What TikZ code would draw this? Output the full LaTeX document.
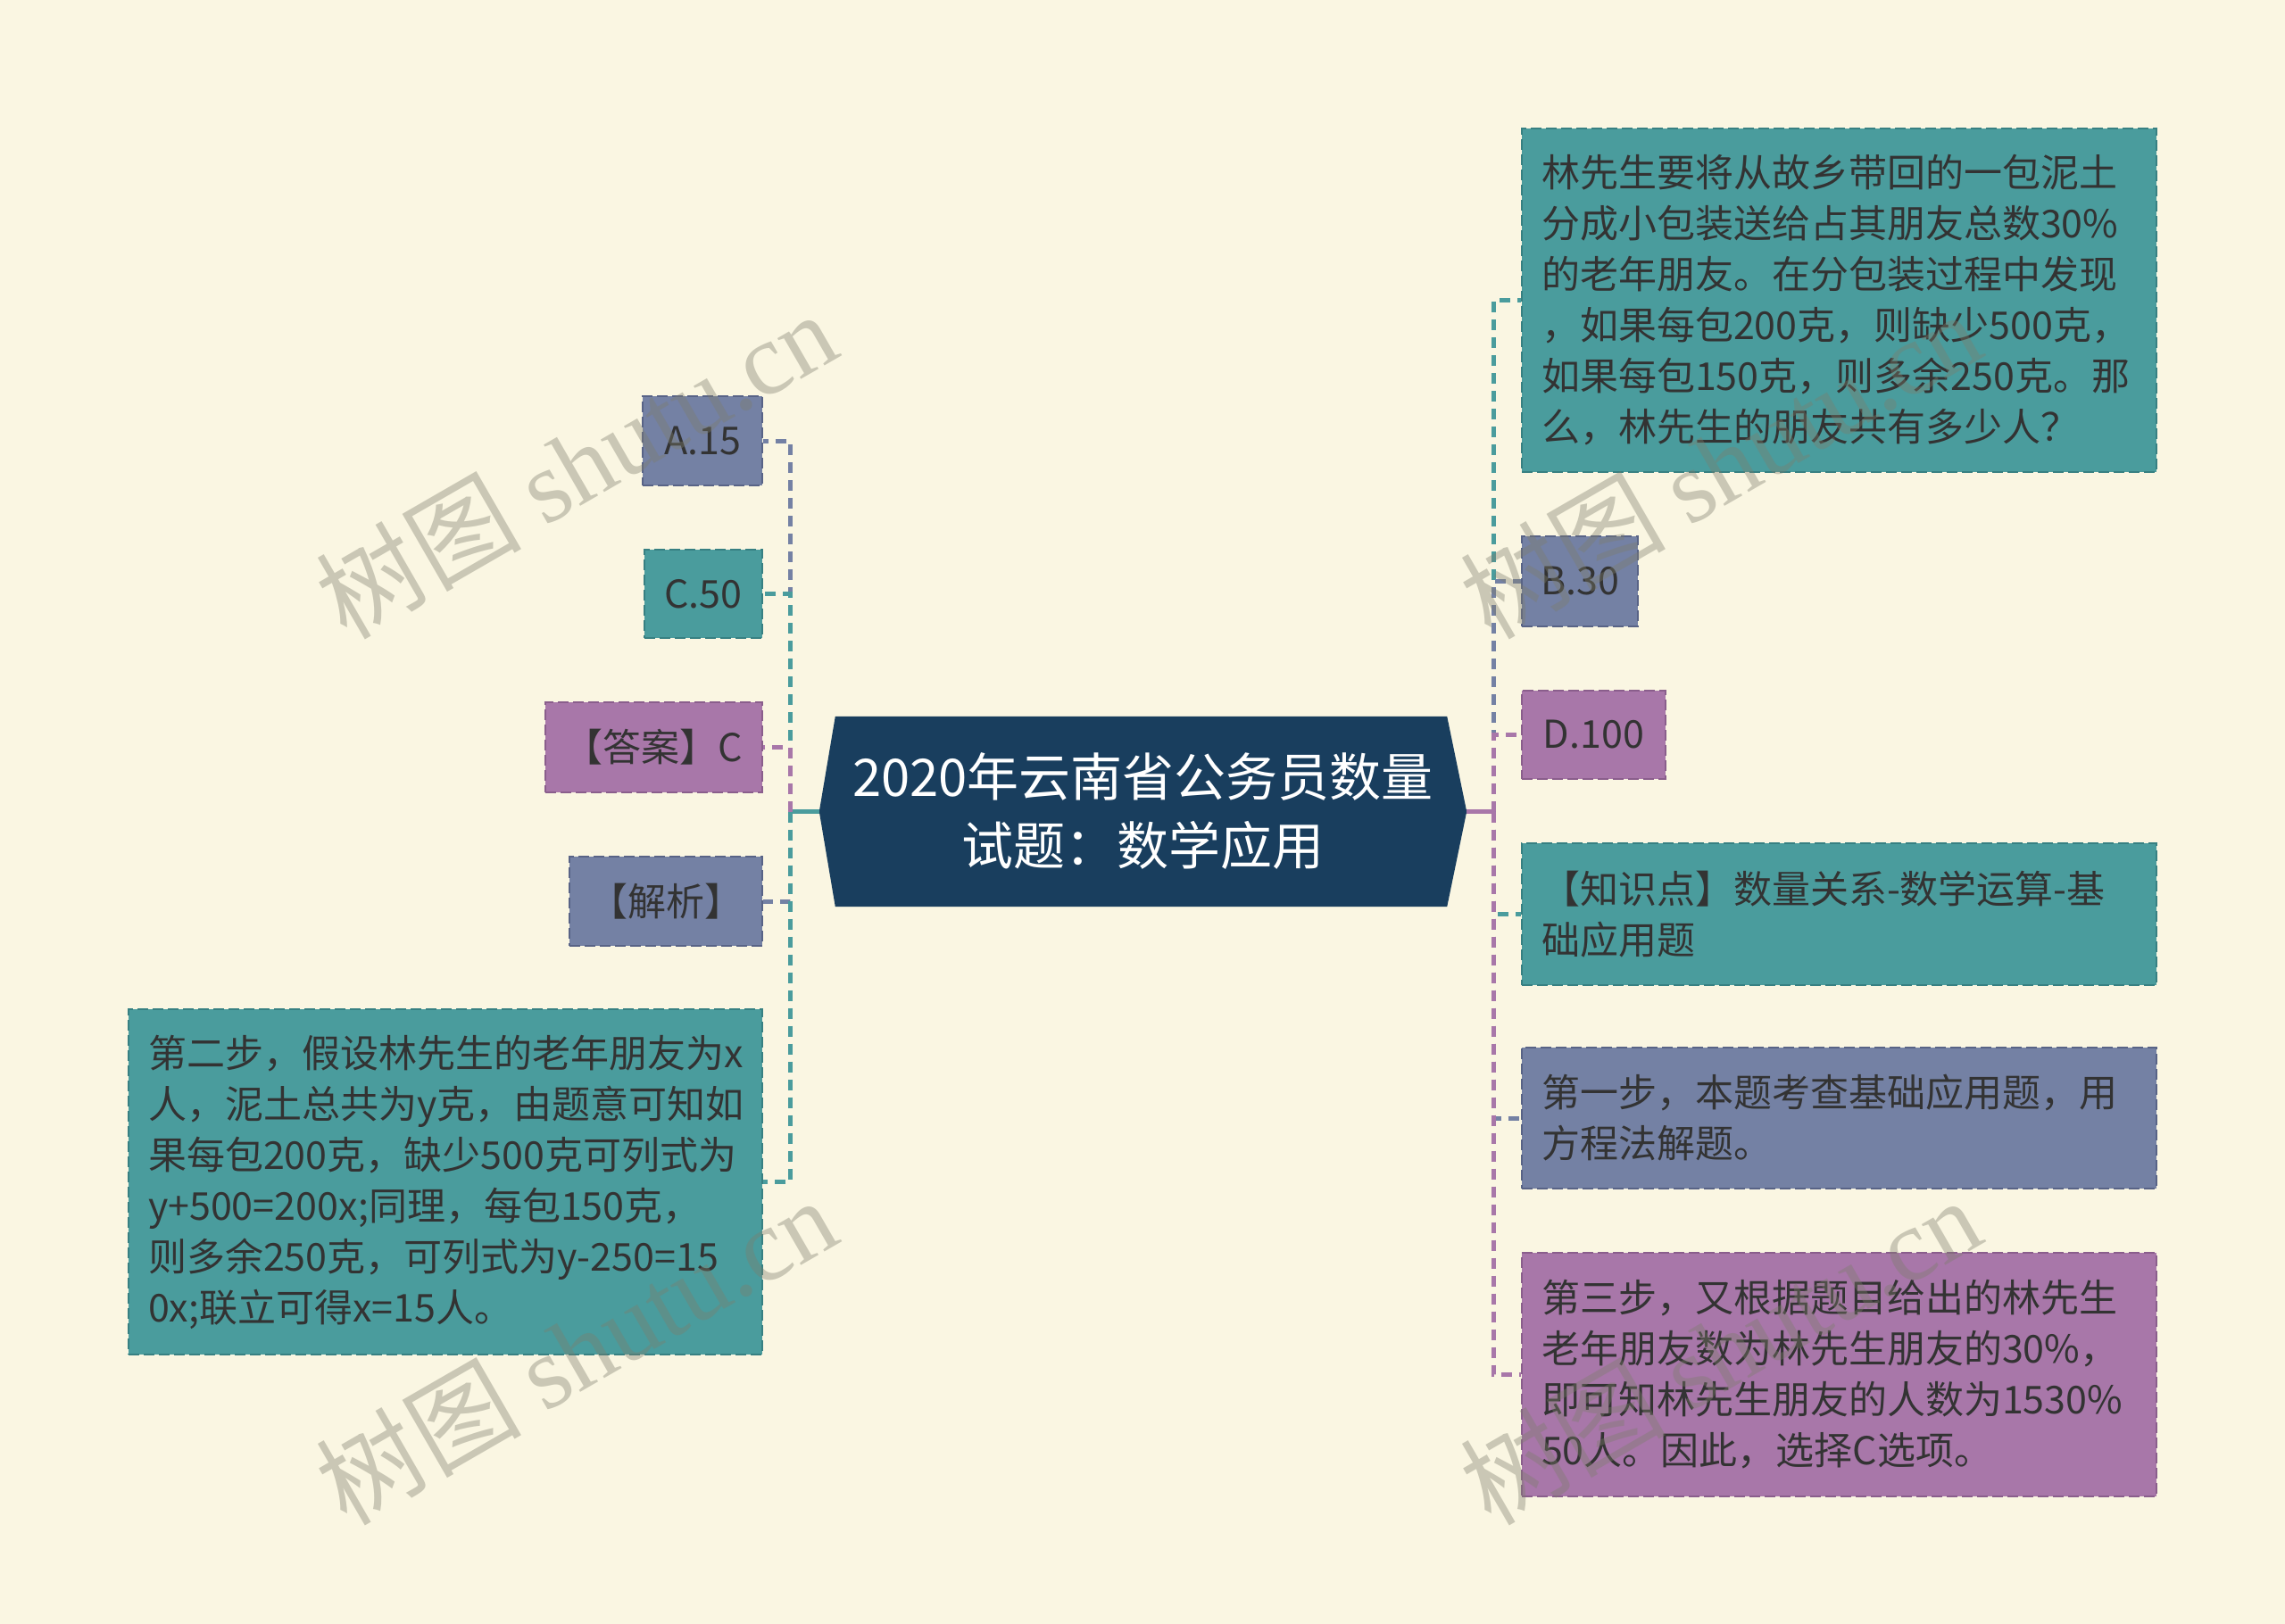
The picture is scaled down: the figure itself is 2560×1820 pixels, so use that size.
\documentclass[tikz,border=0pt]{standalone}
\usepackage{fontspec}
\setmainfont{Noto Sans CJK SC}
\newfontfamily\wmserif{Liberation Serif}
\usetikzlibrary{calc}
\definecolor{bgc}{RGB}{250,246,226}
\definecolor{tealc}{RGB}{74,156,157}
\definecolor{tealb}{RGB}{55,128,130}
\definecolor{slatec}{RGB}{116,129,164}
\definecolor{slateb}{RGB}{88,99,134}
\definecolor{purc}{RGB}{168,119,169}
\definecolor{purb}{RGB}{138,94,140}
\definecolor{navyc}{RGB}{25,62,94}
\definecolor{txtc}{RGB}{51,51,51}
\definecolor{wmc}{RGB}{125,125,108}
\tikzset{
  box/.style={rectangle, line width=2pt, dash pattern=on 12pt off 5pt, inner sep=0pt,
    text=txtc, font=\fontsize{43}{57}\selectfont},
  tealbox/.style={box, fill=tealc, draw=tealb},
  slatebox/.style={box, fill=slatec, draw=slateb},
  purbox/.style={box, fill=purc, draw=purb},
  wide/.style={align=left, text width=#1},
  conn/.style={line width=5pt, dash pattern=on 12pt off 8pt},
  wm/.style={text=wmc, text opacity=0.38, rotate=30, inner sep=0pt}
}
\begin{document}
\begin{tikzpicture}[x=1pt,y=-1pt]
\fill[bgc] (0,0) rectangle (2560,1820);
\useasboundingbox (0,0) rectangle (2560,1820);

% central node
\node[minimum width=725pt, minimum height=213pt, inner sep=0pt] (center) at (1280.5,909.5) {};
\fill[navyc] ($(center.north west)+(18,0)$) -- ($(center.north east)+(-22,0)$) -- (center.east)
  -- ($(center.south east)+(-22,0)$) -- ($(center.south west)+(18,0)$) -- (center.west) -- cycle;
\node[text=white, align=center, font=\fontsize{58}{77}\selectfont] (ctext) at (center) {2020年云南省公务员数量\\试题：数学应用};

\coordinate (lj) at (885,909.5);
\coordinate (rj) at (1673,909.5);

% left nodes
\node[slatebox, minimum width=134pt, minimum height=100pt] (a15) at (787,494) {A.15};
\node[tealbox, minimum width=132pt, minimum height=99pt] (c50) at (788,665.5) {C.50};
\node[purbox, minimum width=243pt, minimum height=101pt] (ans) at (732.5,837.5) {【答案】C};
\node[slatebox, minimum width=216pt, minimum height=100pt] (jx) at (746,1010) {【解析】};
\node[tealbox, minimum width=710pt, minimum height=387pt, wide=666pt] (step2) at (499,1324.5)
{第二步，假设林先生的老年朋友为x\\人，泥土总共为y克，由题意可知如\\果每包200克，缺少500克可列式为\\y+500=200x;同理，每包150克，\\则多余250克，可列式为y-250=15\\0x;联立可得x=15人。};

% right nodes
\node[tealbox, minimum width=711pt, minimum height=385pt, wide=667pt] (q) at (2060.5,336.5)
{林先生要将从故乡带回的一包泥土\\分成小包装送给占其朋友总数30\%\\的老年朋友。在分包装过程中发现\\，如果每包200克，则缺少500克，\\如果每包150克，则多余250克。那\\么，林先生的朋友共有多少人？};
\node[slatebox, minimum width=130pt, minimum height=101pt] (b30) at (1770,651.5) {B.30};
\node[purbox, minimum width=161pt, minimum height=99pt] (d100) at (1785.5,823.5) {D.100};
\node[tealbox, minimum width=711pt, minimum height=159pt, wide=667pt] (kp) at (2060.5,1024.5)
{【知识点】数量关系-数学运算-基\\础应用题};
\node[slatebox, minimum width=711pt, minimum height=158pt, wide=667pt] (step1) at (2060.5,1253)
{第一步，本题考查基础应用题，用\\方程法解题。};
\node[purbox, minimum width=711pt, minimum height=273pt, wide=667pt] (step3) at (2060.5,1540.5)
{第三步，又根据题目给出的林先生\\老年朋友数为林先生朋友的30\%，\\即可知林先生朋友的人数为1530\%\\50人。因此，选择C选项。};

% connectors
\draw[line width=5pt, tealc] (center.west) -- (lj);
\draw[line width=5pt, purc] (center.east) -- (rj);
\draw[conn, slatec] (lj) |- (a15.east);
\draw[conn, tealc] (lj) |- (c50.east);
\draw[conn, purc] (lj) |- (ans.east);
\draw[conn, slatec] (lj) |- (jx.east);
\draw[conn, tealc] (lj) |- (step2.east);
\draw[conn, tealc] (rj) |- (q.west);
\draw[conn, slatec] (rj) |- (b30.west);
\draw[conn, purc] (rj) |- (d100.west);
\draw[conn, tealc] (rj) |- (kp.west);
\draw[conn, slatec] (rj) |- (step1.west);
\draw[conn, purc] (rj) |- (step3.west);

% watermarks
\node[wm] (wm1) at (645,520) {\fontsize{115}{115}\selectfont 树图 {\wmserif shutu.cn}};
\node[wm] (wm2) at (645,1513) {\fontsize{115}{115}\selectfont 树图 {\wmserif shutu.cn}};
\node[wm] (wm3) at (1927,520) {\fontsize{115}{115}\selectfont 树图 {\wmserif shutu.cn}};
\node[wm] (wm4) at (1927,1513) {\fontsize{115}{115}\selectfont 树图 {\wmserif shutu.cn}};
\end{tikzpicture}
\end{document}
